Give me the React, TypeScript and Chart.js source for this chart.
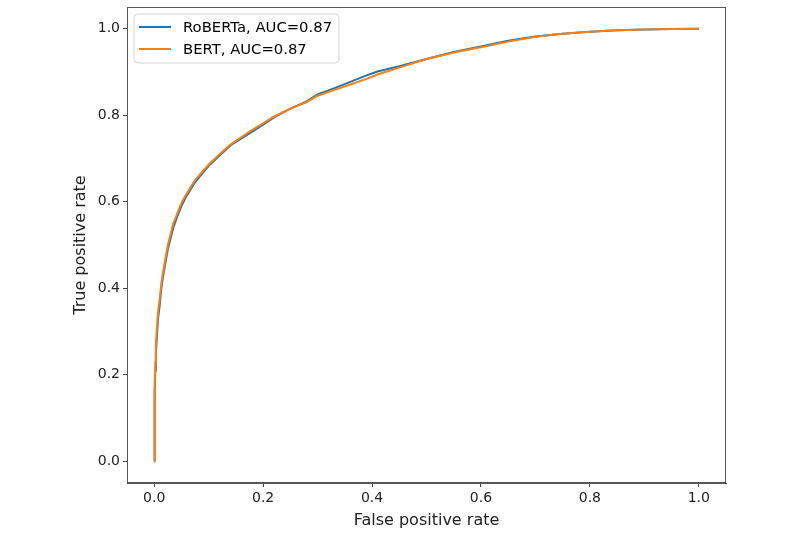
import React, { useEffect, useRef } from "react";
import { Chart, registerables } from "chart.js";

Chart.register(...registerables);

const fprRoberta = [0, 0.0005, 0.001, 0.002, 0.003, 0.005, 0.007, 0.01, 0.013, 0.016, 0.02, 0.025, 0.03, 0.035, 0.042, 0.05, 0.057, 0.065, 0.075, 0.09, 0.1, 0.12, 0.14, 0.155, 0.18, 0.2, 0.22, 0.25, 0.28, 0.3, 0.33, 0.36, 0.39, 0.41, 0.45, 0.5, 0.55, 0.6, 0.65, 0.7, 0.75, 0.8, 0.85, 0.9, 0.95, 1];
const tprRoberta = [0, 0.08, 0.15, 0.21, 0.25, 0.29, 0.33, 0.36, 0.4, 0.425, 0.455, 0.49, 0.515, 0.54, 0.565, 0.59, 0.608, 0.625, 0.645, 0.668, 0.683, 0.707, 0.73, 0.742, 0.762, 0.778, 0.795, 0.815, 0.832, 0.848, 0.862, 0.877, 0.892, 0.901, 0.913, 0.93, 0.946, 0.959, 0.972, 0.982, 0.988, 0.993, 0.996, 0.998, 0.999, 1];
const fprBert = [0, 0.0005, 0.001, 0.002, 0.003, 0.005, 0.007, 0.01, 0.013, 0.016, 0.02, 0.025, 0.03, 0.035, 0.042, 0.05, 0.057, 0.065, 0.075, 0.09, 0.1, 0.12, 0.14, 0.155, 0.18, 0.2, 0.22, 0.25, 0.28, 0.3, 0.33, 0.36, 0.39, 0.41, 0.45, 0.5, 0.55, 0.6, 0.65, 0.7, 0.75, 0.8, 0.85, 0.9, 0.95, 1];
const tprBert = [0, 0.1, 0.17, 0.23, 0.27, 0.31, 0.345, 0.375, 0.41, 0.435, 0.465, 0.5, 0.525, 0.55, 0.572, 0.597, 0.613, 0.63, 0.65, 0.672, 0.686, 0.71, 0.732, 0.745, 0.766, 0.781, 0.797, 0.815, 0.83, 0.845, 0.858, 0.871, 0.884, 0.894, 0.91, 0.93, 0.945, 0.957, 0.97, 0.981, 0.988, 0.993, 0.996, 0.998, 0.999, 1];

const seriesLabels = ["RoBERTa, AUC=0.87", "BERT, AUC=0.87"];
const seriesColors = ["#1f77b4", "#ff7f0e"];
const tickValues = [0, 0.2, 0.4, 0.6, 0.8, 1.0];
const xTitle = "False positive rate";
const yTitle = "True positive rate";

const FONT = "'DejaVu Sans', sans-serif";
const SPINE = "#555";

const framePlugin = {
  id: "mplFrame",
  afterDraw(chart: any) {
    const { ctx, chartArea } = chart;
    ctx.save();
    ctx.strokeStyle = SPINE;
    ctx.lineWidth = 1;
    const l = Math.round(chartArea.left) + 0.5;
    const t = Math.round(chartArea.top) + 0.5;
    const r = Math.round(chartArea.right) - 0.5;
    const b = Math.round(chartArea.bottom) - 0.5;
    ctx.strokeRect(l, t, r - l, b - t);
    ctx.restore();
  },
};

const legendPlugin = {
  id: "mplLegend",
  afterDatasetsDraw(chart: any) {
    const { ctx, chartArea } = chart;
    const x0 = chartArea.left + 7;
    const y0 = chartArea.top + 7;
    const w = 205;
    const h = 49;
    ctx.save();
    ctx.beginPath();
    const r = 4;
    ctx.moveTo(x0 + r, y0);
    ctx.lineTo(x0 + w - r, y0);
    ctx.quadraticCurveTo(x0 + w, y0, x0 + w, y0 + r);
    ctx.lineTo(x0 + w, y0 + h - r);
    ctx.quadraticCurveTo(x0 + w, y0 + h, x0 + w - r, y0 + h);
    ctx.lineTo(x0 + r, y0 + h);
    ctx.quadraticCurveTo(x0, y0 + h, x0, y0 + h - r);
    ctx.lineTo(x0, y0 + r);
    ctx.quadraticCurveTo(x0, y0, x0 + r, y0);
    ctx.closePath();
    ctx.fillStyle = "rgba(255,255,255,0.8)";
    ctx.fill();
    ctx.strokeStyle = "#d6d6d6";
    ctx.lineWidth = 1;
    ctx.stroke();
    chart.data.datasets.forEach((ds: any, i: number) => {
      const ly = y0 + 13 + i * 22;
      ctx.beginPath();
      ctx.moveTo(x0 + 5, ly);
      ctx.lineTo(x0 + 37, ly);
      ctx.strokeStyle = ds.borderColor;
      ctx.lineWidth = 2;
      ctx.stroke();
      ctx.fillStyle = "#000";
      ctx.font = `14.8px ${FONT}`;
      ctx.textBaseline = "middle";
      ctx.textAlign = "left";
      ctx.fillText(ds.label, x0 + 49, ly + 1);
    });
    ctx.restore();
  },
};

export default function App() {
  const ref = useRef<HTMLCanvasElement>(null);
  useEffect(() => {
    if (!ref.current) return;
    const toPts = (xs: number[], ys: number[]) => xs.map((x, i) => ({ x, y: ys[i] }));
    const setTicks = (scale: any) => {
      scale.ticks = tickValues.map((v) => ({ value: v }));
    };
    const chart = new Chart(ref.current, {
      type: "line",
      data: {
        datasets: [
          {
            label: seriesLabels[0],
            data: toPts(fprRoberta, tprRoberta),
            borderColor: seriesColors[0],
            backgroundColor: seriesColors[0],
            borderWidth: 2,
            pointRadius: 0,
            tension: 0,
            order: 1,
          },
          {
            label: seriesLabels[1],
            data: toPts(fprBert, tprBert),
            borderColor: seriesColors[1],
            backgroundColor: seriesColors[1],
            borderWidth: 2,
            pointRadius: 0,
            tension: 0,
            order: 0,
          },
        ],
      },
      options: {
        animation: false,
        responsive: false,
        devicePixelRatio: 1,
        layout: { padding: { left: 71, top: 7, right: 74, bottom: 0 } },
        plugins: {
          legend: { display: false },
          tooltip: { enabled: false },
        },
        scales: {
          x: {
            type: "linear",
            min: -0.05,
            max: 1.05,
            afterBuildTicks: setTicks,
            afterFit: (s: any) => {
              s.height = 52;
              s.paddingLeft = 0;
              s.paddingRight = 0;
            },
            grid: { display: true, drawOnChartArea: false, drawTicks: true, tickLength: 4, color: "#444" },
            border: { display: true, color: SPINE, width: 1 },
            ticks: {
              color: "#222",
              padding: 3,
              font: { family: FONT, size: 14 },
              callback: (v: any) => Number(v).toFixed(1),
              maxRotation: 0,
            },
            title: {
              display: true,
              text: xTitle,
              color: "#222",
              font: { family: FONT, size: 16 },
              padding: { top: 0, bottom: 5 },
            },
          },
          y: {
            type: "linear",
            min: -0.05,
            max: 1.05,
            afterBuildTicks: setTicks,
            afterFit: (s: any) => {
              s.width = 56;
              s.paddingTop = 0;
              s.paddingBottom = 0;
            },
            grid: { display: true, drawOnChartArea: false, drawTicks: true, tickLength: 4, color: "#444" },
            border: { display: true, color: SPINE, width: 1 },
            ticks: {
              color: "#222",
              padding: 3,
              font: { family: FONT, size: 14 },
              callback: (v: any) => Number(v).toFixed(1),
            },
            title: {
              display: true,
              text: yTitle,
              color: "#222",
              font: { family: FONT, size: 16 },
              padding: { top: 0, bottom: 0 },
            },
          },
        },
      },
      plugins: [legendPlugin, framePlugin],
    });
    return () => chart.destroy();
  }, []);
  return (
    <div style={{ position: "fixed", left: 0, top: 0, width: 800, height: 535, background: "#fff" }}>
      <canvas ref={ref} width={800} height={535} />
    </div>
  );
}
